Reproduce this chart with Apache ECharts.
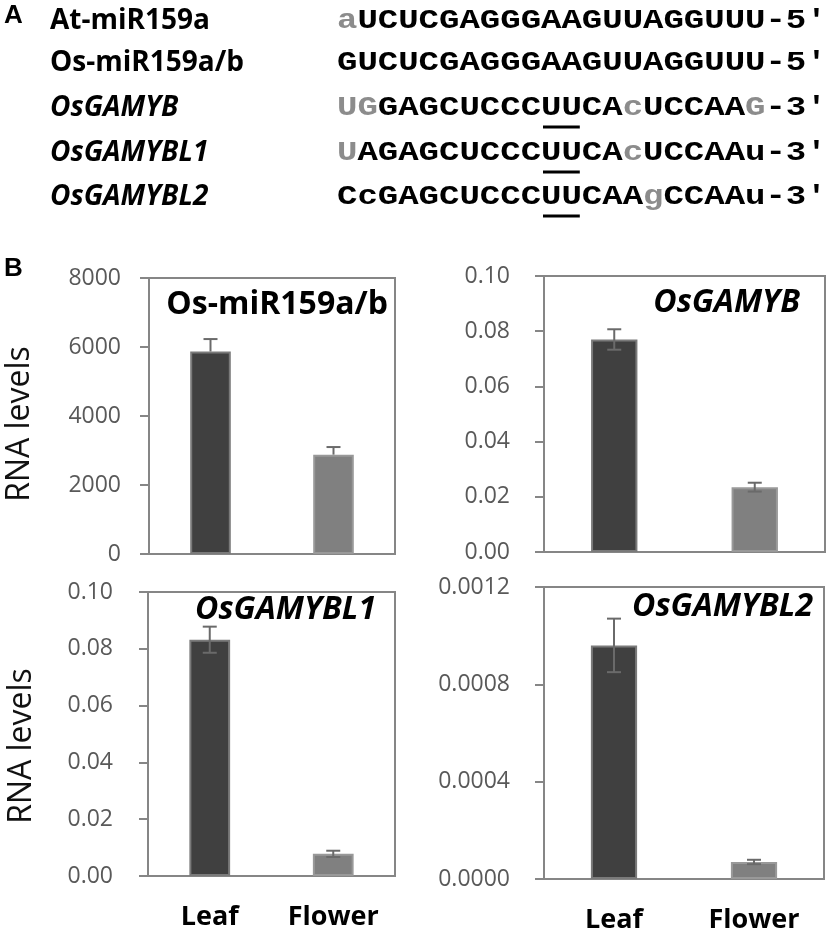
<!DOCTYPE html>
<html><head><meta charset="utf-8">
<script src="https://cdn.jsdelivr.net/npm/echarts@6/dist/echarts.min.js"></script>
<style>html,body{margin:0;padding:0;background:#fff}#c{width:829px;height:934px}</style>
</head><body><div id="c"></div>
<script>
// ---------- data ----------
const categories = ['Leaf', 'Flower'];
const panelTitles = ['Os-miR159a/b', 'OsGAMYB', 'OsGAMYBL1', 'OsGAMYBL2'];
const mir159Values = [5870, 2880];
const mir159Errors = [360, 220];
const gamybValues = [0.0770, 0.0235];
const gamybErrors = [0.0037, 0.0016];
const gamybl1Values = [0.0832, 0.0078];
const gamybl1Errors = [0.0046, 0.0011];
const gamybl2Values = [0.00096, 0.00007];
const gamybl2Errors = [0.00011, 0.000009];
const yMax = [8000, 0.10, 0.10, 0.0012];
const yInterval = [2000, 0.02, 0.02, 0.0004];
const yDecimals = [0, 2, 2, 4];
const yAxisTitle = 'RNA levels';
const alignLabels = ['At-miR159a', 'Os-miR159a/b', 'OsGAMYB', 'OsGAMYBL1', 'OsGAMYBL2'];
const alignItalic = [false, false, true, true, true];
// sequence segments: [style, text]  g = grey (mismatch), b = black
const alignSeqs = [
  [['g', 'a'], ['b', 'UCUCGAGGGAAGUUAGGUUU-5′']],
  [['b', 'GUCUCGAGGGAAGUUAGGUUU-5′']],
  [['g', 'UG'], ['b', 'GAGCUCCCUUCA'], ['g', 'c'], ['b', 'UCCAA'], ['g', 'G'], ['b', '-3′']],
  [['g', 'U'], ['b', 'AGAGCUCCCUUCA'], ['g', 'c'], ['b', 'UCCAAu-3′']],
  [['b', 'CcGAGCUCCCUUCAA'], ['g', 'g'], ['b', 'CCAAu-3′']]
];
const underlineRows = [2, 3, 4];
const underlineRange = [10, 12]; // character indices (UU)

const values = [mir159Values, gamybValues, gamybl1Values, gamybl2Values];
const errors = [mir159Errors, gamybErrors, gamybl1Errors, gamybl2Errors];
const errBoth = [false, true, true, true];

// ---------- layout ----------
const grids = [
  {left: 149, top: 278, width: 246, height: 276},
  {left: 544, top: 276, width: 281, height: 276},
  {left: 148, top: 592, width: 247, height: 284},
  {left: 544, top: 587, width: 280, height: 294}
];
const labelMargin = [28, 34, 35, 34];
const showX = [false, false, true, true];
const titlePos = [[388, 305], [800, 303], [376, 610], [813, 607]];

const AX = '#868686';
const SANS = '"Open Sans", "Liberation Sans", sans-serif';

const chart = echarts.init(document.getElementById('c'));

const xAxes = grids.map((g, i) => ({
  type: 'category', gridIndex: i, data: categories,
  axisTick: {show: false},
  axisLine: {show: true, lineStyle: {color: AX, width: 2}},
  axisLabel: {show: showX[i], color: '#000', fontFamily: SANS, fontWeight: 'bold', fontSize: 27, margin: 28}
}));
const yAxes = grids.map((g, i) => ({
  type: 'value', gridIndex: i, min: 0, max: yMax[i], interval: yInterval[i],
  splitLine: {show: false},
  axisLine: {show: true, lineStyle: {color: AX, width: 2}},
  axisTick: {show: true, inside: false, length: 9, lineStyle: {color: AX, width: 2}},
  axisLabel: {color: '#595959', fontFamily: SANS, fontSize: 23, margin: labelMargin[i],
    formatter: v => Number(v).toFixed(yDecimals[i])}
}));

const series = [];
values.forEach((vals, i) => {
  series.push({
    type: 'bar', xAxisIndex: i, yAxisIndex: i, barWidth: '33%',
    data: vals.map((v, k) => ({value: v, itemStyle: k === 0
      ? {color: '#404040', borderColor: '#7a7a7a', borderWidth: 2}
      : {color: '#808080', borderColor: '#999999', borderWidth: 2}})),
    silent: true
  });
  series.push({
    type: 'custom', xAxisIndex: i, yAxisIndex: i, z: 10, silent: true,
    data: vals.map((v, k) => [k, v, errors[i][k]]),
    renderItem: (params, api) => {
      const x = api.value(0), v = api.value(1), e = api.value(2);
      const top = api.coord([x, v + e]);
      const bot = api.coord([x, errBoth[i] ? v - e : v]);
      const w = 7;
      const st = {stroke: '#6a6a6a', lineWidth: 2};
      const ch = [
        {type: 'line', shape: {x1: top[0], y1: top[1], x2: bot[0], y2: bot[1]}, style: st},
        {type: 'line', shape: {x1: top[0] - w, y1: top[1], x2: top[0] + w, y2: top[1]}, style: st}
      ];
      if (errBoth[i]) ch.push({type: 'line', shape: {x1: bot[0] - w, y1: bot[1], x2: bot[0] + w, y2: bot[1]}, style: st});
      return {type: 'group', children: ch};
    }
  });
});

// ---------- text graphics ----------
const graphic = [];
function txt(x, y, text, font, opts) {
  opts = opts || {};
  return Object.assign({
    type: 'text', x: x, y: y, silent: true,
    style: Object.assign({text: text, font: font, fill: opts.fill || '#000',
      textAlign: opts.align || 'left', align: opts.align || 'left',
      textVerticalAlign: 'middle', verticalAlign: 'middle'}, opts.style || {})
  }, opts.el || {});
}
graphic.push(txt(4, 16, 'A', 'bold 26px "Liberation Sans", sans-serif'));
graphic.push(txt(4, 269, 'B', 'bold 26px "Liberation Sans", sans-serif'));

const rowY = [21, 63, 108, 153, 197];
const seqX = 337, pitch = 20.4, seqFont = 28;
const seqScale = pitch / (0.6 * seqFont);
alignLabels.forEach((lab, r) => {
  graphic.push(txt(50, rowY[r], lab, (alignItalic[r] ? 'italic ' : '') + 'bold 28px ' + SANS));
  const rich = {
    g: {fill: '#8c8c8c', color: '#8c8c8c', font: 'bold ' + seqFont + 'px "Liberation Mono", monospace'},
    b: {fill: '#000', color: '#000', font: 'bold ' + seqFont + 'px "Liberation Mono", monospace'}
  };
  const t = alignSeqs[r].map(s => '{' + s[0] + '|' + s[1] + '}').join('');
  graphic.push(txt(seqX, rowY[r], t, 'bold ' + seqFont + 'px "Liberation Mono", monospace',
    {style: {rich: rich}, el: {scaleX: seqScale}}));
});
underlineRows.forEach(r => {
  graphic.push({type: 'line', silent: true,
    shape: {x1: seqX + underlineRange[0] * pitch + 2, y1: rowY[r] + 19, x2: seqX + underlineRange[1] * pitch - 2, y2: rowY[r] + 19},
    style: {stroke: '#000', lineWidth: 3}});
});

panelTitles.forEach((t, i) => {
  graphic.push(txt(titlePos[i][0], titlePos[i][1], t, (i > 0 ? 'italic ' : '') + 'bold 32px ' + SANS, {align: 'right'}));
});
[[20, 424], [22, 746]].forEach(p => {
  graphic.push(txt(p[0], p[1], yAxisTitle, '32px ' + SANS, {align: 'center', fill: '#111', el: {rotation: Math.PI / 2}}));
});

chart.setOption({
  animation: false,
  grid: grids.map(g => Object.assign({show: true, borderColor: AX, borderWidth: 2, containLabel: false}, g)),
  xAxis: xAxes, yAxis: yAxes, series: series, graphic: graphic
});
</script></body></html>
